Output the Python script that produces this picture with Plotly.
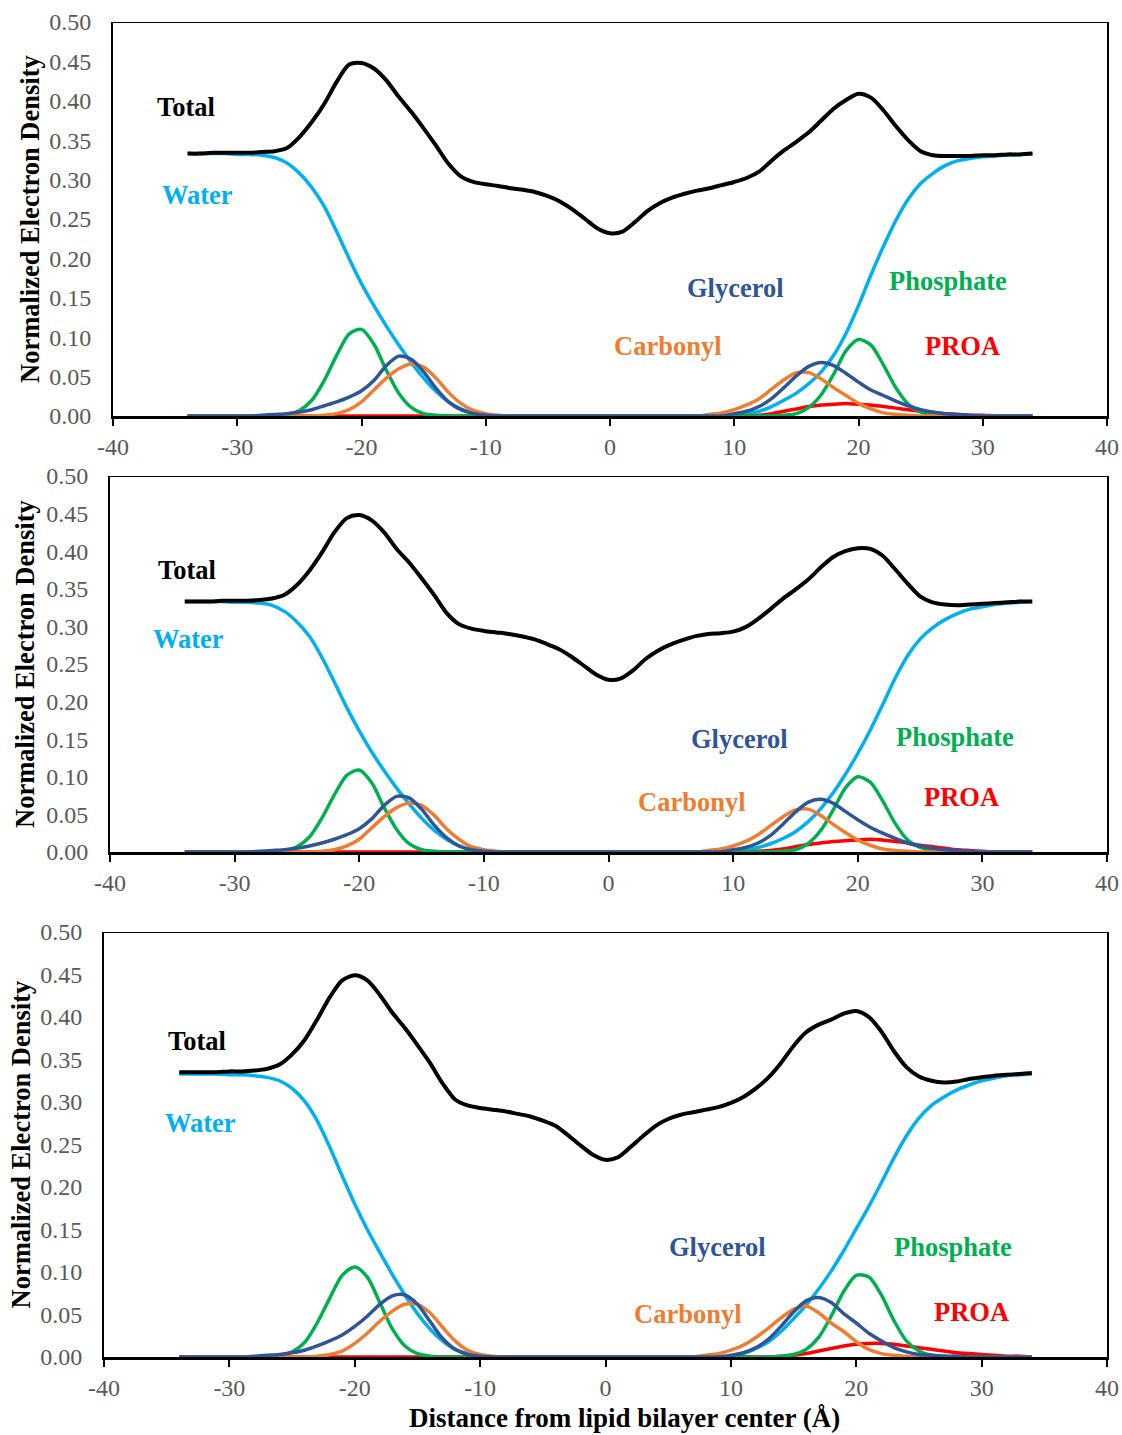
import plotly.graph_objects as go

x_pos = list(range(-34, 35))

# ---------------- Panel 1 ----------------
total_1 = [0.333, 0.333, 0.334, 0.334, 0.334, 0.334, 0.335, 0.336, 0.340, 0.354,
           0.373, 0.396, 0.424, 0.446, 0.448, 0.441, 0.426, 0.405, 0.386, 0.365,
           0.343, 0.320, 0.304, 0.297, 0.294, 0.292, 0.289, 0.287, 0.284, 0.279,
           0.272, 0.262, 0.250, 0.238, 0.232, 0.234, 0.246, 0.260, 0.270, 0.277,
           0.282, 0.286, 0.289, 0.293, 0.297, 0.302, 0.310, 0.324, 0.337, 0.348,
           0.360, 0.375, 0.390, 0.401, 0.409, 0.404, 0.388, 0.368, 0.350, 0.336,
           0.331, 0.330, 0.330, 0.330, 0.331, 0.331, 0.332, 0.332, 0.333]
water_1 = [0.333, 0.333, 0.333, 0.333, 0.332, 0.332, 0.331, 0.328, 0.321, 0.308,
           0.290, 0.266, 0.234, 0.200, 0.168, 0.140, 0.114, 0.090, 0.068, 0.048,
           0.031, 0.018, 0.009, 0.004, 0.001,
           0, 0, 0, 0, 0, 0, 0, 0, 0, 0, 0, 0, 0, 0, 0, 0, 0, 0, 0,
           0.001, 0.003, 0.006, 0.012, 0.020, 0.029, 0.041, 0.056, 0.077, 0.105,
           0.140, 0.179, 0.215, 0.248, 0.275, 0.295, 0.308, 0.318, 0.324, 0.327,
           0.329, 0.330, 0.331, 0.332, 0.333]
phosphate_1 = [0, 0, 0, 0, 0, 0, 0, 0,
               0.002, 0.007, 0.020, 0.045, 0.077, 0.104, 0.110, 0.091, 0.058, 0.029,
               0.011, 0.003, 0.001,
               0, 0, 0, 0, 0, 0, 0, 0, 0, 0, 0, 0, 0, 0, 0, 0, 0, 0, 0, 0, 0, 0, 0,
               0, 0, 0, 0,
               0.001, 0.003, 0.011, 0.027, 0.053, 0.083, 0.097, 0.090, 0.065, 0.036,
               0.015, 0.005, 0.002, 0.001,
               0, 0, 0, 0, 0, 0, 0]
glycerol_1 = [0, 0, 0, 0, 0, 0,
              0.001, 0.002, 0.003, 0.005, 0.008, 0.013, 0.018, 0.024, 0.032, 0.045,
              0.064, 0.076, 0.072, 0.056, 0.035, 0.018, 0.008, 0.003, 0.001,
              0, 0, 0, 0, 0, 0, 0, 0, 0, 0, 0, 0, 0, 0, 0, 0, 0, 0, 0,
              0.003, 0.006, 0.012, 0.022, 0.036, 0.051, 0.063, 0.068, 0.064, 0.054,
              0.043, 0.033, 0.026, 0.019, 0.013, 0.008, 0.005, 0.003, 0.002, 0.001,
              0, 0, 0, 0, 0]
carbonyl_1 = [0, 0, 0, 0, 0, 0, 0, 0, 0, 0, 0,
              0.001, 0.003, 0.008, 0.018, 0.033, 0.048, 0.060, 0.066, 0.062, 0.048,
              0.030, 0.016, 0.007, 0.003, 0.001,
              0, 0, 0, 0, 0, 0, 0, 0, 0, 0, 0, 0, 0, 0, 0, 0,
              0.002, 0.004, 0.008, 0.014, 0.022, 0.034, 0.046, 0.055, 0.055, 0.047,
              0.036, 0.026, 0.016, 0.009, 0.004, 0.002, 0.001,
              0, 0, 0, 0, 0, 0, 0, 0, 0, 0]
proa_1 = [0] * 46 + [0.001, 0.003, 0.006, 0.009, 0.012, 0.014, 0.015, 0.016, 0.015,
                     0.014, 0.012, 0.010, 0.008, 0.006, 0.004, 0.003, 0.002, 0.001,
                     0.001] + [0] * 4

# ---------------- Panel 2 ----------------
total_2 = [0.333, 0.333, 0.333, 0.334, 0.334, 0.334, 0.335, 0.337, 0.342, 0.355,
           0.374, 0.398, 0.425, 0.444, 0.448, 0.441, 0.425, 0.403, 0.385, 0.364,
           0.342, 0.318, 0.303, 0.297, 0.294, 0.292, 0.290, 0.287, 0.283, 0.277,
           0.270, 0.260, 0.248, 0.236, 0.229, 0.231, 0.242, 0.257, 0.268, 0.276,
           0.282, 0.287, 0.290, 0.291, 0.293, 0.299, 0.310, 0.323, 0.337, 0.349,
           0.362, 0.378, 0.392, 0.400, 0.404, 0.403, 0.394, 0.376, 0.357, 0.340,
           0.332, 0.329, 0.328, 0.329, 0.330, 0.331, 0.332, 0.333, 0.333]
water_2 = [0.333, 0.333, 0.333, 0.333, 0.332, 0.332, 0.331, 0.328, 0.320, 0.306,
           0.287, 0.259, 0.226, 0.192, 0.161, 0.133, 0.108, 0.085, 0.064, 0.045,
           0.029, 0.017, 0.008, 0.003, 0.001,
           0, 0, 0, 0, 0, 0, 0, 0, 0, 0, 0, 0, 0, 0, 0, 0, 0, 0, 0,
           0.001, 0.003, 0.006, 0.011, 0.018, 0.027, 0.040, 0.057, 0.078, 0.103,
           0.131, 0.162, 0.196, 0.231, 0.261, 0.283, 0.298, 0.309, 0.317, 0.323,
           0.326, 0.329, 0.331, 0.332, 0.333]
phosphate_2 = [0, 0, 0, 0, 0, 0, 0, 0,
               0.002, 0.007, 0.020, 0.045, 0.076, 0.102, 0.109, 0.092, 0.059, 0.030,
               0.011, 0.003, 0.001,
               0, 0, 0, 0, 0, 0, 0, 0, 0, 0, 0, 0, 0, 0, 0, 0, 0, 0, 0, 0, 0, 0, 0,
               0, 0, 0, 0,
               0.001, 0.003, 0.011, 0.028, 0.055, 0.085, 0.100, 0.093, 0.068, 0.038,
               0.016, 0.006, 0.002, 0.001,
               0, 0, 0, 0, 0, 0, 0]
glycerol_2 = [0, 0, 0, 0, 0, 0,
              0.001, 0.002, 0.003, 0.005, 0.008, 0.012, 0.017, 0.023, 0.031, 0.044,
              0.062, 0.074, 0.072, 0.057, 0.036, 0.019, 0.008, 0.003, 0.001,
              0, 0, 0, 0, 0, 0, 0, 0, 0, 0, 0, 0, 0, 0, 0, 0, 0, 0, 0,
              0.003, 0.006, 0.012, 0.022, 0.037, 0.053, 0.066, 0.070, 0.065, 0.054,
              0.043, 0.033, 0.025, 0.018, 0.012, 0.008, 0.005, 0.003, 0.002, 0.001,
              0, 0, 0, 0, 0]
carbonyl_2 = [0, 0, 0, 0, 0, 0, 0, 0, 0, 0, 0,
              0.001, 0.003, 0.008, 0.017, 0.032, 0.047, 0.059, 0.065, 0.062, 0.049,
              0.031, 0.017, 0.007, 0.003, 0.001,
              0, 0, 0, 0, 0, 0, 0, 0, 0, 0, 0, 0, 0, 0, 0, 0,
              0.002, 0.004, 0.008, 0.014, 0.023, 0.035, 0.047, 0.056, 0.057, 0.049,
              0.037, 0.026, 0.016, 0.009, 0.004, 0.002, 0.001,
              0, 0, 0, 0, 0, 0, 0, 0, 0, 0]
proa_2 = [0] * 46 + [0.001, 0.002, 0.004, 0.007, 0.010, 0.012, 0.014, 0.015, 0.016,
                     0.017, 0.016, 0.014, 0.012, 0.009, 0.007, 0.005, 0.003, 0.002,
                     0.001] + [0] * 4

# ---------------- Panel 3 ----------------
total_3 = [0.335, 0.335, 0.335, 0.335, 0.336, 0.336, 0.337, 0.339, 0.344, 0.356,
           0.373, 0.397, 0.423, 0.443, 0.449, 0.443, 0.426, 0.405, 0.387, 0.367,
           0.346, 0.322, 0.303, 0.296, 0.293, 0.291, 0.289, 0.286, 0.283, 0.278,
           0.272, 0.261, 0.249, 0.238, 0.232, 0.235, 0.247, 0.260, 0.272, 0.280,
           0.285, 0.288, 0.291, 0.294, 0.299, 0.306, 0.316, 0.329, 0.346, 0.366,
           0.382, 0.391, 0.397, 0.404, 0.407, 0.400, 0.383, 0.360, 0.341, 0.330,
           0.325, 0.323, 0.324, 0.327, 0.329, 0.331, 0.332, 0.333, 0.334]
water_3 = [0.333, 0.333, 0.333, 0.333, 0.332, 0.332, 0.331, 0.329, 0.325, 0.316,
           0.301, 0.278, 0.247, 0.213, 0.180, 0.150, 0.123, 0.097, 0.073, 0.051,
           0.033, 0.019, 0.009, 0.004, 0.001,
           0, 0, 0, 0, 0, 0, 0, 0, 0, 0, 0, 0, 0, 0, 0, 0, 0, 0, 0,
           0.001, 0.004, 0.010, 0.018, 0.030, 0.045, 0.061, 0.080, 0.101, 0.125,
           0.151, 0.177, 0.205, 0.234, 0.260, 0.281, 0.296, 0.306, 0.314, 0.320,
           0.325, 0.328, 0.331, 0.332, 0.333]
phosphate_3 = [0, 0, 0, 0, 0, 0, 0, 0,
               0.002, 0.006, 0.017, 0.040, 0.069, 0.096, 0.106, 0.094, 0.064, 0.033,
               0.013, 0.004, 0.001,
               0, 0, 0, 0, 0, 0, 0, 0, 0, 0, 0, 0, 0, 0, 0, 0, 0, 0, 0, 0, 0, 0, 0,
               0, 0, 0, 0,
               0.001, 0.003, 0.009, 0.023, 0.048, 0.077, 0.096, 0.094, 0.073, 0.043,
               0.019, 0.007, 0.002, 0.001,
               0, 0, 0, 0, 0, 0, 0]
glycerol_3 = [0, 0, 0, 0, 0, 0,
              0.001, 0.002, 0.003, 0.005, 0.008, 0.013, 0.019, 0.026, 0.036, 0.048,
              0.062, 0.072, 0.073, 0.062, 0.042, 0.022, 0.009, 0.003, 0.001,
              0, 0, 0, 0, 0, 0, 0, 0, 0, 0, 0, 0, 0, 0, 0, 0, 0, 0, 0,
              0.002, 0.005, 0.011, 0.021, 0.036, 0.053, 0.066, 0.070, 0.064, 0.051,
              0.040, 0.028, 0.019, 0.011, 0.006, 0.003, 0.002, 0.001, 0.001, 0,
              0, 0, 0, 0, 0]
carbonyl_3 = [0, 0, 0, 0, 0, 0, 0, 0, 0, 0, 0,
              0.001, 0.003, 0.007, 0.016, 0.028, 0.042, 0.054, 0.062, 0.062, 0.052,
              0.035, 0.019, 0.008, 0.003, 0.001,
              0, 0, 0, 0, 0, 0, 0, 0, 0, 0, 0, 0, 0, 0, 0, 0,
              0.002, 0.004, 0.008, 0.014, 0.023, 0.034, 0.046, 0.056, 0.060, 0.052,
              0.040, 0.030, 0.018, 0.009, 0.004, 0.002, 0.001,
              0, 0, 0, 0, 0, 0, 0, 0, 0, 0]
proa_3 = [0] * 48 + [0.001, 0.002, 0.004, 0.007, 0.010, 0.013, 0.015, 0.016, 0.016,
                     0.015, 0.013, 0.011, 0.009, 0.007, 0.005, 0.004, 0.003, 0.002,
                     0.001, 0.001, 0]

x_ticks = [-40, -30, -20, -10, 0, 10, 20, 30, 40]
x_tick_text = ["-40", "-30", "-20", "-10", "0", "10", "20", "30", "40"]
y_ticks = [0.0, 0.05, 0.10, 0.15, 0.20, 0.25, 0.30, 0.35, 0.40, 0.45, 0.50]
y_tick_text = ["0.00", "0.05", "0.10", "0.15", "0.20", "0.25", "0.30", "0.35",
               "0.40", "0.45", "0.50"]

panels = [
    dict(total=total_1, water=water_1, phosphate=phosphate_1, glycerol=glycerol_1,
         carbonyl=carbonyl_1, proa=proa_1),
    dict(total=total_2, water=water_2, phosphate=phosphate_2, glycerol=glycerol_2,
         carbonyl=carbonyl_2, proa=proa_2),
    dict(total=total_3, water=water_3, phosphate=phosphate_3, glycerol=glycerol_3,
         carbonyl=carbonyl_3, proa=proa_3),
]
for p in panels:
    for k, v in p.items():
        assert len(v) == len(x_pos), (k, len(v))

label_names = ["Total", "Water", "Glycerol", "Phosphate", "Carbonyl", "PROA"]
label_x = [[-34.1, -33.2, 10.1, 27.2, 4.7, 28.4],
           [-33.85, -33.7, 10.5, 27.8, 6.7, 28.3],
           [-32.6, -32.3, 8.9, 27.7, 6.6, 29.2]]
label_y = [[0.392, 0.280, 0.163, 0.171, 0.089, 0.089],
           [0.375, 0.283, 0.150, 0.153, 0.066, 0.073],
           [0.372, 0.275, 0.130, 0.129, 0.051, 0.053]]

colors = dict(total="#000000", water="#00B0F0", phosphate="#00B050",
              glycerol="#2F5597", carbonyl="#ED7D31", proa="#FF0000")
label_colors = ["#000000", "#00B0F0", "#2F5597", "#00B050", "#ED7D31", "#FF0000"]

W, H = 1122, 1435
# pixel boxes of plot areas: (left, right, top, bottom)
boxes = [(113, 1107, 22, 416), (110, 1107, 476, 852), (104, 1107, 932, 1357)]

FONT = "Liberation Serif, Times New Roman, serif"

fig = go.Figure()
draw_order = ["water", "proa", "phosphate", "carbonyl", "glycerol", "total"]
for i, p in enumerate(panels):
    xa = "x" if i == 0 else f"x{i+1}"
    ya = "y" if i == 0 else f"y{i+1}"
    for key in draw_order:
        fig.add_trace(go.Scatter(
            x=x_pos, y=p[key], mode="lines", xaxis=xa, yaxis=ya,
            line=dict(color=colors[key], width=4 if key == "total" else 3.5,
                      shape="spline", smoothing=0.8),
            showlegend=False, hoverinfo="skip"))

layout = dict(width=W, height=H, margin=dict(l=0, r=0, t=0, b=0, autoexpand=False),
              paper_bgcolor="white", plot_bgcolor="white", showlegend=False,
              font=dict(family=FONT))
annotations = []
shapes = []
for i, (l, r, t, b) in enumerate(boxes):
    sfx = "" if i == 0 else str(i + 1)
    layout["xaxis" + sfx] = dict(
        domain=[l / W, r / W], anchor="y" + sfx, range=[-40, 40],
        tickmode="array", tickvals=x_ticks, ticktext=x_tick_text,
        ticks="outside", ticklen=7, tickwidth=2, tickcolor="black",
        showline=True, linecolor="black", linewidth=3, mirror=False,
        showgrid=False, zeroline=False, ticklabelstandoff=0, automargin=False,
        tickfont=dict(family=FONT, size=24, color="#595959"))
    layout["yaxis" + sfx] = dict(
        domain=[1 - b / H, 1 - t / H], anchor="x" + sfx, range=[0, 0.5],
        tickmode="array", tickvals=y_ticks, ticktext=y_tick_text,
        ticks="", showline=True, linecolor="black", linewidth=2, mirror=True,
        showgrid=False, zeroline=False, ticklabelstandoff=15, automargin=False,
        tickfont=dict(family=FONT, size=24, color="#595959"))
    shapes.append(dict(type="line", xref="x" + sfx, yref="y" + sfx,
                       x0=-40, x1=40, y0=0.5, y1=0.5,
                       line=dict(color="black", width=2), layer="above"))
    for name, lx, ly, lc in zip(label_names, label_x[i], label_y[i], label_colors):
        annotations.append(dict(
            x=lx, y=ly, xref="x" + sfx, yref="y" + sfx, text=f"<b>{name}</b>",
            showarrow=False, xanchor="center", yanchor="middle",
            font=dict(family=FONT, size=26.5, color=lc)))

ytitle_x = [30, 25, 20]
for i, (l, r, t, b) in enumerate(boxes):
    annotations.append(dict(
        x=ytitle_x[i] / W, y=1 - ((t + b) / 2) / H, xref="paper", yref="paper",
        text="<b>Normalized Electron Density</b>", textangle=-90,
        showarrow=False, xanchor="center", yanchor="middle",
        font=dict(family=FONT, size=26.5, color="black")))

annotations.append(dict(
    x=624 / W, y=1 - 1418 / H, xref="paper", yref="paper",
    text="<b>Distance from lipid bilayer center (Å)</b>",
    showarrow=False, xanchor="center", yanchor="middle",
    font=dict(family=FONT, size=27, color="black")))

layout["annotations"] = annotations
layout["shapes"] = shapes
fig.update_layout(**layout)
fig.write_html("out.html")
